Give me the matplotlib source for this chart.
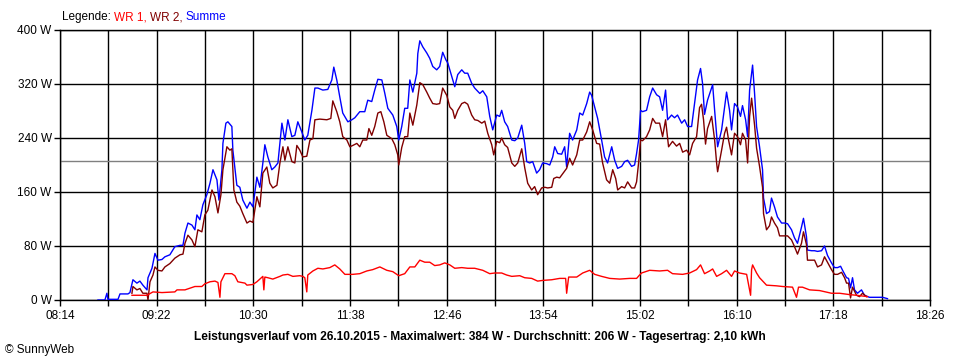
import matplotlib
matplotlib.use("Agg")
import matplotlib.pyplot as plt
from matplotlib.ticker import MultipleLocator, FuncFormatter

plt.rcParams['font.family'] = ['Liberation Sans', 'DejaVu Sans']

START_MIN = 8 * 60 + 14   # 08:14
END_MIN = 18 * 60 + 26    # 18:26
AVERAGE_W = 206

# Summe (blue): minutes after 08:14, watts
summe_t = [26.7, 31.6, 33.0, 33.7, 38.7, 40.8, 42.2, 47.8, 49.2, 51.3, 54.1, 56.2, 58.3, 61.2, 61.9,
           64.7, 66.8, 68.9, 71.7, 73.8, 77.3, 80.8, 84.4, 86.5, 87.9, 90.0, 92.8, 94.9, 96.3, 98.4,
           100.5, 103.3, 105.5, 107.6, 110.4, 111.8, 113.9, 114.6, 116.7, 118.1, 120.9, 121.6, 124.4,
           126.5, 128.6, 131.5, 133.6, 135.7, 138.5, 140.6, 142.7, 144.1, 146.2, 149.0, 151.1, 153.3,
           156.1, 158.2, 160.3, 163.1, 165.2, 167.3, 170.1, 172.2, 174.3, 177.2, 179.3, 181.4, 184.9,
           188.4, 191.2, 192.6, 194.7, 196.8, 198.9, 202.5, 205.3, 207.4, 210.9, 214.4, 216.5, 219.3,
           221.4, 223.6, 226.4, 228.5, 230.6, 234.1, 236.9, 238.3, 240.4, 242.5, 244.6, 246.1, 248.2,
           251.0, 251.7, 253.1, 255.2, 258.0, 260.1, 262.2, 265.0, 267.1, 269.2, 271.4, 272.8, 275.6,
           277.7, 279.8, 282.6, 284.7, 286.8, 289.6, 291.7, 295.3, 297.4, 300.2, 302.3, 304.4, 307.2,
           309.3, 310.7, 312.8, 314.9, 317.8, 319.9, 322.0, 324.8, 326.9, 328.3, 330.4, 332.5, 335.3,
           337.4, 339.5, 342.4, 344.5, 346.6, 348.0, 350.1, 352.9, 355.0, 356.4, 358.5, 360.6, 363.5,
           365.6, 367.7, 370.5, 372.6, 374.0, 376.1, 378.2, 381.0, 383.1, 385.2, 388.1, 390.2, 392.3,
           395.1, 397.2, 399.3, 402.1, 404.2, 405.6, 407.0, 408.4, 409.8, 412.6, 414.8, 416.9, 419.7,
           421.8, 423.9, 426.0, 427.4, 430.2, 432.3, 434.4, 437.3, 439.4, 441.5, 444.3, 446.4, 448.5,
           450.6, 452.0, 453.4, 455.5, 459.1, 460.5, 462.6, 465.4, 467.5, 468.9, 471.0, 472.4, 474.5,
           476.6, 478.7, 480.1, 482.3, 483.7, 485.1, 487.2, 488.6, 490.0, 492.1, 494.2, 494.9, 497.0,
           499.1, 500.5, 502.6, 504.7, 507.6, 509.7, 511.8, 514.6, 516.7, 518.8, 521.6, 523.0, 525.1,
           525.8, 528.7, 530.8, 532.9, 535.7, 537.8, 539.9, 542.7, 544.8, 547.0, 549.1, 550.5, 553.3,
           554.7, 556.1, 557.5, 558.9, 561.0, 563.8, 565.9, 569.4, 575.0, 578.6, 582.1]
summe_w = [0, 0, 10, 1, 1, 1, 9, 9, 11, 30, 25, 28, 22, 15, 33,
           47, 69, 59, 60, 64, 67, 79, 81, 81, 99, 114, 111, 104, 126, 119,
           141, 156, 173, 193, 178, 148, 193, 232, 262, 264, 257, 222, 170,
           167, 148, 136, 145, 138, 182, 167, 203, 230, 212, 193, 197, 203,
           262, 237, 267, 242, 244, 264, 249, 237, 244, 281, 314, 314, 311,
           312, 326, 345, 326, 301, 277, 264, 267, 270, 279, 279, 296, 294,
           311, 327, 326, 306, 284, 274, 257, 237, 257, 284, 284, 326, 308,
           336, 365, 384, 375, 366, 358, 346, 341, 346, 367, 356, 351, 331,
           316, 334, 341, 336, 336, 321, 314, 306, 310, 301, 272, 252, 274,
           272, 281, 264, 257, 237, 236, 240, 259, 232, 205, 203, 205, 188,
           193, 203, 202, 200, 212, 227, 217, 216, 227, 197, 247, 237, 252,
           277, 274, 291, 308, 303, 286, 269, 237, 212, 203, 227, 207, 195,
           198, 205, 207, 198, 200, 217, 237, 281, 279, 281, 301, 314, 304,
           301, 281, 311, 267, 274, 270, 274, 262, 267, 257, 257, 291, 326,
           343, 321, 275, 296, 319, 281, 227, 252, 286, 308, 281, 252, 291,
           286, 272, 288, 267, 242, 311, 348, 306, 257, 227, 193, 151, 128,
           131, 151, 138, 123, 114, 114, 113, 104, 92, 84, 108, 121, 94,
           74, 73, 73, 72, 73, 80, 66, 55, 48, 48, 50, 44, 33,
           32, 18, 33, 15, 10, 15, 7, 4, 4, 4, 2]

# WR 1 (red)
wr1_t = [50.6, 61.2, 65.4, 71.7, 80.8, 82.3, 87.9, 94.9, 99.8, 101.9, 105.5, 109.0, 111.1, 112.5,
         113.2, 114.6, 116.0, 120.9, 123.0, 125.1, 130.1, 131.5, 135.7, 138.5, 142.7, 143.4, 144.1,
         146.2, 149.7, 154.7, 156.8, 160.3, 163.8, 168.7, 170.8, 172.2, 173.6, 174.3, 177.9, 181.4,
         184.9, 189.8, 193.3, 196.8, 200.4, 206.0, 210.9, 215.8, 220.0, 225.0, 229.9, 234.1, 238.3,
         242.5, 246.1, 249.6, 253.1, 256.6, 260.1, 263.6, 267.1, 270.7, 274.2, 277.7, 282.6, 286.8,
         291.7, 297.4, 302.3, 305.8, 310.7, 314.2, 317.8, 323.4, 326.9, 331.8, 336.0, 339.5, 345.9,
         351.5, 355.7, 356.4, 357.8, 363.5, 367.7, 372.6, 376.1, 381.0, 386.7, 393.7, 400.7, 405.6,
         407.7, 409.1, 414.8, 421.8, 427.4, 430.9, 438.0, 442.9, 447.8, 450.6, 453.4, 457.0, 459.1,
         461.9, 465.4, 468.9, 472.4, 474.5, 478.0, 483.0, 485.8, 486.5, 487.2, 490.0, 492.1, 497.0,
         504.0, 508.3, 515.3, 518.1, 519.5, 522.3, 527.3, 534.3, 542.7, 548.4, 555.4, 560.3, 568.0]
wr1_w = [7, 7, 12, 11, 12, 15, 15, 20, 20, 24, 27, 28, 26, 4,
         27, 33, 39, 39, 36, 27, 25, 22, 23, 27, 35, 15, 34,
         33, 31, 35, 37, 38, 35, 36, 35, 33, 12, 37, 43, 47,
         46, 48, 52, 46, 38, 38, 39, 43, 45, 49, 44, 42, 36,
         39, 49, 49, 59, 56, 56, 51, 52, 55, 52, 47, 48, 47,
         47, 44, 39, 40, 40, 37, 35, 36, 33, 32, 28, 29, 30,
         32, 32, 10, 34, 34, 40, 44, 38, 35, 32, 31, 32, 32,
         37, 40, 44, 43, 44, 39, 38, 40, 45, 52, 39, 43, 46,
         35, 39, 44, 35, 43, 40, 38, 7, 45, 52, 40, 33, 22,
         21, 20, 19, 4, 19, 19, 15, 14, 10, 10, 8, 7, 5]

# WR 2 (dark red)
wr2_t = [50.6, 51.3, 54.1, 56.2, 58.3, 61.2, 61.9, 63.3, 65.4, 66.8, 68.9, 71.7, 73.8, 77.3, 80.8,
         84.4, 86.5, 87.9, 90.0, 92.8, 94.9, 97.0, 99.8, 101.9, 104.0, 106.9, 109.0, 111.1, 113.2,
         114.6, 117.4, 119.5, 120.9, 122.3, 124.4, 126.5, 128.6, 131.5, 133.6, 135.7, 138.5, 140.6,
         142.7, 145.5, 147.6, 149.7, 152.6, 154.7, 156.8, 158.2, 160.3, 163.1, 165.2, 166.6, 168.7,
         170.8, 173.6, 175.8, 177.9, 179.3, 182.8, 187.7, 190.5, 191.9, 194.7, 196.8, 198.9, 201.8,
         203.9, 206.0, 208.8, 210.9, 213.0, 215.8, 217.3, 219.3, 221.4, 223.6, 225.7, 227.8, 229.9,
         233.4, 235.5, 237.6, 238.3, 240.4, 242.5, 244.6, 246.1, 248.2, 251.0, 253.1, 255.2, 258.0,
         260.1, 262.2, 265.0, 267.1, 269.2, 272.1, 274.2, 276.3, 277.7, 279.8, 282.6, 284.7, 286.8,
         289.6, 291.7, 293.9, 296.7, 298.8, 300.9, 303.7, 305.1, 307.2, 309.3, 310.7, 312.8, 314.9,
         317.8, 319.9, 322.0, 324.8, 326.9, 329.0, 331.8, 333.9, 336.0, 338.8, 341.0, 343.1, 345.9,
         347.3, 349.4, 351.5, 353.6, 356.4, 358.5, 360.6, 363.5, 365.6, 367.7, 370.5, 372.6, 374.7,
         377.5, 379.6, 381.7, 384.5, 386.7, 388.8, 390.9, 392.3, 395.1, 397.2, 399.3, 402.1, 404.2,
         405.6, 407.0, 408.4, 409.8, 412.6, 414.8, 416.9, 419.0, 421.8, 423.9, 426.0, 428.1, 430.9,
         433.7, 435.9, 438.0, 440.8, 442.9, 445.0, 447.8, 449.9, 451.3, 452.7, 454.1, 455.5, 458.4,
         460.5, 461.9, 462.6, 465.4, 467.5, 468.9, 470.3, 472.4, 474.5, 476.6, 478.7, 480.1, 482.3,
         483.7, 485.1, 486.5, 488.6, 490.0, 492.1, 494.2, 494.9, 497.0, 499.1, 500.5, 502.6, 504.7,
         506.2, 509.7, 511.8, 514.6, 516.7, 518.8, 521.6, 523.0, 525.1, 525.8, 528.7, 530.8, 532.9,
         535.7, 537.8, 539.9, 542.7, 544.8, 547.0, 549.8, 551.9, 553.3, 554.7, 556.1, 557.5, 560.3,
         562.4, 564.5, 567.3]
wr2_w = [10, 20, 15, 17, 10, 10, 0, 27, 37, 49, 44, 43, 49, 54, 62,
         67, 68, 84, 96, 89, 79, 104, 101, 126, 133, 163, 153, 129, 156,
         193, 227, 222, 224, 163, 145, 139, 128, 114, 117, 115, 153, 138,
         188, 197, 173, 166, 170, 203, 227, 207, 227, 205, 203, 229, 222,
         212, 213, 237, 239, 267, 268, 267, 269, 295, 279, 264, 242, 237,
         227, 229, 232, 227, 237, 237, 254, 244, 257, 277, 279, 264, 244,
         239, 230, 215, 200, 226, 242, 242, 277, 259, 289, 322, 319, 308,
         299, 291, 290, 291, 314, 303, 286, 281, 269, 281, 291, 293, 290,
         274, 267, 266, 262, 265, 247, 230, 215, 235, 233, 240, 230, 226,
         203, 198, 203, 224, 196, 173, 163, 168, 156, 166, 167, 166, 167,
         180, 182, 181, 187, 195, 210, 200, 215, 237, 237, 249, 264, 252,
         232, 231, 203, 178, 173, 193, 180, 163, 168, 166, 175, 166, 166,
         175, 203, 237, 236, 242, 252, 269, 262, 262, 242, 267, 227, 235,
         228, 232, 219, 222, 215, 232, 242, 285, 290, 267, 231, 254, 272,
         237, 203, 190, 222, 247, 256, 237, 215, 247, 242, 230, 247, 237,
         203, 272, 299, 259, 225, 198, 167, 128, 104, 110, 123, 114, 107,
         95, 95, 95, 89, 79, 68, 84, 101, 82, 59, 59, 59, 49,
         52, 64, 56, 45, 38, 38, 41, 33, 25, 25, 3, 19, 7,
         5, 10, 5]

legend_parts = [("Legende: ", "#000000"), ("WR 1, ", "#FF0000"), ("WR 2, ", "#800000"), ("Summe", "#0000FF")]
title = "Leistungsverlauf vom 26.10.2015 - Maximalwert: 384 W - Durchschnitt: 206 W - Tagesertrag: 2,10 kWh"

fig = plt.figure(figsize=(9.6, 3.6), dpi=100)
fig.patch.set_facecolor("white")
ax = fig.add_axes([60 / 960, 60 / 360, 870 / 960, 270 / 360])

def to_x(ts):
    return [START_MIN + t for t in ts]

ax.plot(to_x(summe_t), summe_w, color="#0000FF", lw=1.0, zorder=3)
ax.plot(to_x(wr2_t), wr2_w, color="#800000", lw=1.0, zorder=4)
ax.plot(to_x(wr1_t), wr1_w, color="#FF0000", lw=1.0, zorder=5)
ax.axhline(AVERAGE_W, color="#808080", lw=1.0, zorder=2)

ax.set_xlim(START_MIN, END_MIN)
ax.set_ylim(0, 400)
ax.xaxis.set_major_locator(MultipleLocator(68, offset=START_MIN % 68))
ax.xaxis.set_minor_locator(MultipleLocator(34, offset=START_MIN % 34))
ax.xaxis.set_major_formatter(FuncFormatter(lambda v, p: f"{int(round(v)) // 60:02d}:{int(round(v)) % 60:02d}"))
ax.yaxis.set_major_locator(MultipleLocator(80))
ax.yaxis.set_major_formatter(FuncFormatter(lambda v, p: f"{int(v)} W"))
ax.grid(True, which="both", axis="x", color="black", lw=1.0, zorder=1)
ax.grid(True, which="major", axis="y", color="black", lw=1.0, zorder=1)
ax.set_axisbelow(True)
for s in ax.spines.values():
    s.set_color("black")
    s.set_linewidth(1.0)
ax.tick_params(axis="both", which="both", direction="out", length=4, width=1.0, colors="black",
               labelsize=8.5, pad=3)
ax.tick_params(axis="y", pad=2)

# legend line
renderer = fig.canvas.get_renderer()
x_px = 62
for txt, col in legend_parts:
    t = fig.text(x_px / 960, 1 - 17 / 360, txt, color=col, fontsize=8.5, va="center", ha="left")
    bb = t.get_window_extent(renderer=renderer)
    x_px += bb.width

fig.text(0.5, 1 - 337 / 360, title, fontsize=8.6, fontweight="bold", ha="center", va="center")
fig.text(5 / 960, 1 - 350 / 360, "© SunnyWeb", fontsize=8.5, ha="left", va="center")

fig.savefig("out.png", dpi=100)
